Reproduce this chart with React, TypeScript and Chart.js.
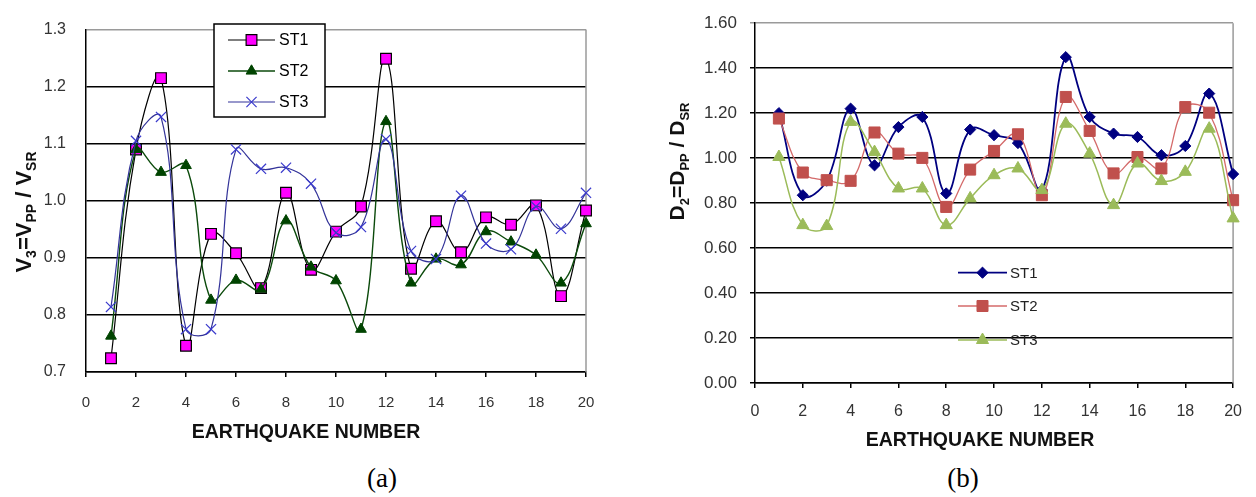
import React, { useEffect, useRef } from "react";
import { Chart, registerables } from "chart.js";
import { drawPoint } from "chart.js/helpers";

Chart.register(...registerables);

// ---------------- DATA ----------------
const EQ_NUMBERS = [1, 2, 3, 4, 5, 6, 7, 8, 9, 10, 11, 12, 13, 14, 15, 16, 17, 18, 19, 20];

// (a) V3 = VPP / VSR
const V_ST1 = [0.724, 1.09, 1.215, 0.746, 0.942, 0.908, 0.847, 1.014, 0.879, 0.946, 0.99, 1.249, 0.881, 0.964, 0.91, 0.971, 0.958, 0.992, 0.833, 0.983];
const V_ST2 = [0.763, 1.09, 1.05, 1.062, 0.826, 0.861, 0.845, 0.965, 0.884, 0.86, 0.775, 1.139, 0.856, 0.898, 0.888, 0.946, 0.928, 0.905, 0.856, 0.96];
const V_ST3 = [0.814, 1.105, 1.147, 0.775, 0.775, 1.09, 1.056, 1.058, 1.03, 0.944, 0.954, 1.108, 0.912, 0.898, 1.009, 0.925, 0.915, 0.99, 0.951, 1.014];

// (b) D2 = DPP / DSR
const D_ST1 = [1.2, 0.835, 0.9, 1.22, 0.968, 1.138, 1.183, 0.843, 1.127, 1.102, 1.067, 0.858, 1.449, 1.183, 1.109, 1.094, 1.013, 1.054, 1.287, 0.929];
const D_ST2 = [1.176, 0.936, 0.902, 0.899, 1.114, 1.02, 1.001, 0.783, 0.949, 1.032, 1.106, 0.835, 1.272, 1.121, 0.932, 1.005, 0.954, 1.227, 1.202, 0.813];
const D_ST3 = [1.005, 0.702, 0.698, 1.161, 1.027, 0.865, 0.865, 0.702, 0.821, 0.924, 0.954, 0.858, 1.153, 1.02, 0.791, 0.976, 0.898, 0.939, 1.131, 0.732];

const SERIES_LABELS = ["ST1", "ST2", "ST3"];
const X_TITLE = "EARTHQUAKE NUMBER";
const X_MIN = 0;
const X_MAX = 20;
const X_STEP = 2;
const V_Y_RANGE = [0.7, 1.3];
const V_Y_STEP = 0.1;
const D_Y_RANGE = [0, 1.6];
const D_Y_STEP = 0.2;
const CAPTIONS = ["(a)", "(b)"];

type Part = { t: string; sub?: boolean };
const V_TITLE: Part[] = [
  { t: "V" }, { t: "3", sub: true }, { t: "=V" }, { t: "PP", sub: true }, { t: " / V" }, { t: "SR", sub: true },
];
const D_TITLE: Part[] = [
  { t: "D" }, { t: "2", sub: true }, { t: "=D" }, { t: "PP", sub: true }, { t: " / D" }, { t: "SR", sub: true },
];

// ---------------- STYLE / LAYOUT ----------------
const FONT = '"Liberation Sans", Arial, Helvetica, sans-serif';

interface SeriesStyle {
  line: string;
  lineWidth: number;
  style: string;
  radius: number;
  fill: string;
  stroke: string;
  pointBorder: number;
}

interface Spec {
  width: number;
  height: number;
  area: { left: number; top: number; right: number; bottom: number };
  yRange: number[];
  yStep: number;
  yDecimals: number;
  yTickFont: number;
  yTickPad: number;
  yTickLen: number;
  xTickFont: number;
  xTickPad: number;
  values: number[][];
  styles: SeriesStyle[];
  yTitle: Part[];
  yTitlePos: { x: number; y: number; size: number; sub: number; shift: number };
  xTitlePos: { x: number; y: number; size: number };
  legend: {
    box?: { x: number; y: number; w: number; h: number };
    x1: number;
    x2: number;
    textX: number;
    ys: number[];
    font: number;
    color: string;
  };
}

const SPEC_A: Spec = {
  width: 628,
  height: 460,
  area: { left: 86, top: 20, right: 586, bottom: 372 },
  yRange: V_Y_RANGE,
  yStep: V_Y_STEP,
  yDecimals: 1,
  yTickFont: 16,
  yTickPad: 20,
  yTickLen: 0,
  xTickFont: 15,
  xTickPad: 17,
  values: [V_ST1, V_ST2, V_ST3],
  styles: [
    { line: "#000000", lineWidth: 1.2, style: "rect", radius: 7.6, fill: "#FF00FF", stroke: "#000000", pointBorder: 1.2 },
    { line: "#0B4A0B", lineWidth: 1.4, style: "triangle", radius: 6.2, fill: "#004400", stroke: "#004400", pointBorder: 1 },
    { line: "#333399", lineWidth: 1.2, style: "crossRot", radius: 7.2, fill: "#3a3acc", stroke: "#3a3acc", pointBorder: 1.2 },
  ],
  yTitle: V_TITLE,
  yTitlePos: { x: 31, y: 212, size: 22, sub: 14, shift: 5 },
  xTitlePos: { x: 306, y: 432.5, size: 19.5 },
  legend: {
    box: { x: 214, y: 24, w: 111, h: 93 },
    x1: 228,
    x2: 275,
    textX: 279,
    ys: [40, 71, 102],
    font: 16,
    color: "#000",
  },
};

const SPEC_B: Spec = {
  width: 628,
  height: 460,
  area: { left: 127, top: 23, right: 614, bottom: 383 },
  yRange: D_Y_RANGE,
  yStep: D_Y_STEP,
  yDecimals: 2,
  yTickFont: 17,
  yTickPad: 13,
  yTickLen: 5,
  xTickFont: 16,
  xTickPad: 14,
  values: [D_ST1, D_ST2, D_ST3],
  styles: [
    { line: "#000080", lineWidth: 1.8, style: "rectRot", radius: 5.6, fill: "#000080", stroke: "#000080", pointBorder: 1 },
    { line: "#D46A6A", lineWidth: 1.3, style: "rect", radius: 7.8, fill: "#C0504D", stroke: "#C0504D", pointBorder: 1 },
    { line: "#9BBB59", lineWidth: 1.5, style: "triangle", radius: 7, fill: "#9BBB59", stroke: "#9BBB59", pointBorder: 1 },
  ],
  yTitle: D_TITLE,
  yTitlePos: { x: 56, y: 161.5, size: 21, sub: 13, shift: 5 },
  xTitlePos: { x: 352, y: 440.8, size: 19.5 },
  legend: {
    x1: 330,
    x2: 379,
    textX: 382,
    ys: [272.7, 306, 340],
    font: 15,
    color: "#222",
  },
};

function drawRotatedTitle(ctx: CanvasRenderingContext2D, parts: Part[], p: Spec["yTitlePos"]) {
  const fMain = `bold ${p.size}px ${FONT}`;
  const fSub = `bold ${p.sub}px ${FONT}`;
  ctx.save();
  const widths = parts.map((pt) => {
    ctx.font = pt.sub ? fSub : fMain;
    return ctx.measureText(pt.t).width;
  });
  const total = widths.reduce((a, b) => a + b, 0);
  ctx.translate(p.x, p.y);
  ctx.rotate(-Math.PI / 2);
  ctx.textAlign = "left";
  ctx.textBaseline = "alphabetic";
  ctx.fillStyle = "#111";
  let cx = -total / 2;
  parts.forEach((pt, i) => {
    ctx.font = pt.sub ? fSub : fMain;
    ctx.fillText(pt.t, cx, pt.sub ? p.shift : 0);
    cx += widths[i];
  });
  ctx.restore();
}

function makeDecor(spec: Spec) {
  return {
    id: "decor",
    beforeDatasetsDraw(chart: any) {
      const ctx: CanvasRenderingContext2D = chart.ctx;
      const a = chart.chartArea;
      ctx.save();
      ctx.strokeStyle = "#9a9a9a";
      ctx.lineWidth = 1.5;
      ctx.beginPath();
      ctx.moveTo(a.right, a.top);
      ctx.lineTo(a.right, a.bottom);
      ctx.stroke();
      ctx.restore();
    },
    afterDatasetsDraw(chart: any) {
      const ctx: CanvasRenderingContext2D = chart.ctx;
      const lg = spec.legend;
      ctx.save();
      if (lg.box) {
        ctx.fillStyle = "#fff";
        ctx.fillRect(lg.box.x, lg.box.y, lg.box.w, lg.box.h);
        ctx.strokeStyle = "#000";
        ctx.lineWidth = 1.5;
        ctx.strokeRect(lg.box.x, lg.box.y, lg.box.w, lg.box.h);
      }
      SERIES_LABELS.forEach((label, i) => {
        const st = spec.styles[i];
        const y = lg.ys[i];
        ctx.strokeStyle = st.line;
        ctx.lineWidth = st.lineWidth;
        ctx.beginPath();
        ctx.moveTo(lg.x1, y);
        ctx.lineTo(lg.x2, y);
        ctx.stroke();
        ctx.fillStyle = st.fill;
        ctx.strokeStyle = st.stroke;
        ctx.lineWidth = st.pointBorder;
        drawPoint(ctx, { pointStyle: st.style as any, radius: st.radius, rotation: 0, borderWidth: st.pointBorder } as any, (lg.x1 + lg.x2) / 2, y);
        ctx.fillStyle = lg.color;
        ctx.font = `${lg.font}px ${FONT}`;
        ctx.textAlign = "left";
        ctx.textBaseline = "middle";
        ctx.fillText(label, lg.textX, y + 1);
      });
      ctx.restore();
    },
    afterDraw(chart: any) {
      const ctx: CanvasRenderingContext2D = chart.ctx;
      ctx.save();
      ctx.fillStyle = "#111";
      ctx.font = `bold ${spec.xTitlePos.size}px ${FONT}`;
      ctx.textAlign = "center";
      ctx.textBaseline = "middle";
      ctx.fillText(X_TITLE, spec.xTitlePos.x, spec.xTitlePos.y);
      ctx.restore();
      drawRotatedTitle(ctx, spec.yTitle, spec.yTitlePos);
    },
  };
}

function buildConfig(spec: Spec): any {
  const [yMin, yMax] = spec.yRange;
  return {
    type: "line",
    data: {
      datasets: SERIES_LABELS.map((label, i) => {
        const st = spec.styles[i];
        return {
          label,
          data: EQ_NUMBERS.map((x, j) => ({ x, y: spec.values[i][j] })),
          borderColor: st.line,
          borderWidth: st.lineWidth,
          pointStyle: st.style,
          pointRadius: st.radius,
          pointHoverRadius: st.radius,
          pointBackgroundColor: st.fill,
          pointBorderColor: st.stroke,
          pointBorderWidth: st.pointBorder,
          tension: 0.4,
          fill: false,
          clip: false,
          order: SERIES_LABELS.length - i,
        };
      }),
    },
    options: {
      responsive: false,
      animation: false,
      devicePixelRatio: 1,
      events: [],
      layout: {
        padding: { left: 0, top: spec.area.top, right: spec.width - spec.area.right, bottom: 0 },
      },
      plugins: {
        legend: { display: false },
        tooltip: { enabled: false },
        title: { display: false },
      },
      scales: {
        x: {
          type: "linear",
          min: X_MIN,
          max: X_MAX,
          ticks: {
            stepSize: X_STEP,
            font: { family: FONT, size: spec.xTickFont },
            color: "#333",
            padding: spec.xTickPad,
            maxRotation: 0,
            autoSkip: false,
          },
          grid: { drawOnChartArea: false, drawTicks: true, tickLength: 5, color: "#000", lineWidth: 1.5 },
          border: { display: true, color: "#000", width: 1.5 },
          afterFit: (sc: any) => {
            sc.height = spec.height - spec.area.bottom;
          },
        },
        y: {
          type: "linear",
          min: yMin,
          max: yMax,
          ticks: {
            stepSize: spec.yStep,
            callback: (v: any) => Number(v).toFixed(spec.yDecimals),
            font: { family: FONT, size: spec.yTickFont },
            color: "#333",
            padding: spec.yTickPad,
            autoSkip: false,
          },
          grid: {
            color: (c: any) => (c.tick && Math.abs(c.tick.value - yMax) < 1e-9 ? "#9a9a9a" : "#000"),
            lineWidth: 1.5,
            drawTicks: spec.yTickLen > 0,
            tickLength: spec.yTickLen,
          },
          border: { display: true, color: "#000", width: 1.5 },
          afterFit: (sc: any) => {
            sc.width = spec.area.left;
          },
        },
      },
    },
    plugins: [makeDecor(spec)],
  };
}

function ChartCanvas({ spec, left }: { spec: Spec; left: number }) {
  const ref = useRef<HTMLCanvasElement>(null);
  useEffect(() => {
    if (!ref.current) return;
    const chart = new Chart(ref.current, buildConfig(spec));
    return () => chart.destroy();
  }, [spec]);
  return (
    <canvas
      ref={ref}
      width={spec.width}
      height={spec.height}
      style={{ position: "absolute", left, top: 0, width: spec.width, height: spec.height }}
    />
  );
}

const captionStyle: React.CSSProperties = {
  position: "absolute",
  top: 462,
  width: 80,
  textAlign: "center",
  fontFamily: '"Liberation Serif", "Times New Roman", serif',
  fontSize: 27,
  lineHeight: "32px",
  color: "#000",
};

export default function App() {
  return (
    <div
      style={{
        position: "absolute",
        left: 0,
        top: 0,
        width: 1256,
        height: 497,
        background: "#fff",
        overflow: "hidden",
      }}
    >
      <ChartCanvas spec={SPEC_A} left={0} />
      <ChartCanvas spec={SPEC_B} left={628} />
      <div style={{ ...captionStyle, left: 382 - 40 }}>{CAPTIONS[0]}</div>
      <div style={{ ...captionStyle, left: 963 - 40 }}>{CAPTIONS[1]}</div>
    </div>
  );
}
